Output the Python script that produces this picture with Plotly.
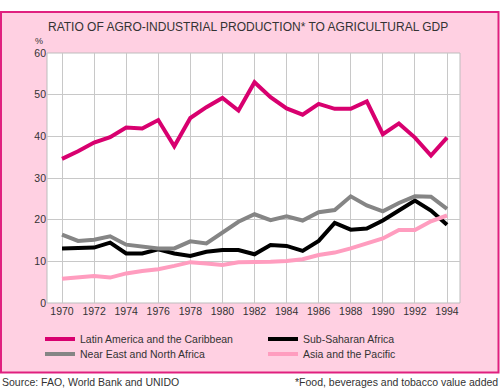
import plotly.graph_objects as go

years = list(range(1970, 1995))
latin = [34.6, 36.4, 38.5, 39.8, 42.1, 41.9, 43.9, 37.6, 44.4, 47.0, 49.2, 46.2, 53.0,
         49.4, 46.7, 45.2, 47.8, 46.6, 46.6, 48.4, 40.5, 43.1, 39.7, 35.4, 39.7]
subsahara = [13.1, 13.1, 13.3, 14.5, 11.9, 11.9, 12.9, 11.9, 11.3, 12.3, 12.7, 12.7, 11.7,
             13.9, 13.7, 12.5, 14.9, 19.2, 17.6, 17.9, 19.8, 22.2, 24.6, 22.2, 18.8]
neareast = [16.4, 14.9, 15.2, 16.0, 14.0, 13.5, 13.1, 13.1, 14.8, 14.3, 16.9, 19.5, 21.3,
            19.9, 20.8, 19.8, 21.8, 22.3, 25.6, 23.4, 22.0, 24.0, 25.6, 25.5, 22.6]
asia = [5.8, 6.2, 6.5, 6.1, 7.1, 7.7, 8.1, 8.9, 9.8, 9.5, 9.1, 9.8, 9.8,
        9.9, 10.1, 10.5, 11.5, 12.1, 13.1, 14.4, 15.5, 17.5, 17.5, 19.6, 21.0]

series = [
    ("Latin America and the Caribbean", latin, "#D8006F", "legend"),
    ("Sub-Saharan Africa", subsahara, "#000000", "legend"),
    ("Near East and North Africa", neareast, "#858585", "legend2"),
    ("Asia and the Pacific", asia, "#FF9DBF", "legend2"),
]

tick_years = list(range(1970, 1995, 2))
y_ticks = [0, 10, 20, 30, 40, 50, 60]

FONT = "Liberation Sans, Arial, sans-serif"
TXT = "#333333"

fig = go.Figure()
for name, vals, col, lg in series:
    fig.add_trace(go.Scatter(x=years, y=vals, name=name, mode="lines",
                             line=dict(color=col, width=4), legend=lg))

L, R, T, B = 47, 40, 53, 85
W, H = 500, 388
pw, ph = W - L - R, H - T - B

def px(x):
    return (x - L) / pw

def py(y):
    return (H - B - y) / ph

fig.add_shape(type="rect", xref="paper", yref="paper",
              x0=px(1), x1=px(498.5), y0=py(372.5), y1=py(12),
              fillcolor="#FFD0E2", line=dict(color="#E0207F", width=2), layer="below")
fig.add_shape(type="rect", xref="x domain", yref="y domain", x0=0, x1=1, y0=0, y1=1,
              fillcolor="white", line=dict(color="#BDBDBD", width=1), layer="below")

fig.add_annotation(text="RATIO OF AGRO-INDUSTRIAL PRODUCTION* TO AGRICULTURAL GDP",
                   xref="paper", yref="paper", x=px(247.5), y=py(27), showarrow=False,
                   xanchor="center", yanchor="middle", font=dict(family=FONT, size=12, color=TXT))
fig.add_annotation(text="%", xref="paper", yref="paper", x=px(39), y=py(41), showarrow=False,
                   xanchor="center", yanchor="middle", font=dict(family=FONT, size=9, color=TXT))
fig.add_annotation(text="Source: FAO, World Bank and UNIDO", xref="paper", yref="paper",
                   x=px(0), y=py(382), showarrow=False, xanchor="left", yanchor="middle",
                   font=dict(family=FONT, size=10.5, color=TXT))
fig.add_annotation(text="*Food, beverages and tobacco value added", xref="paper", yref="paper",
                   x=px(500), y=py(382), showarrow=False, xanchor="right", yanchor="middle",
                   font=dict(family=FONT, size=10.5, color=TXT))

leg_common = dict(orientation="h", xanchor="left", yanchor="middle",
                  bgcolor="rgba(0,0,0,0)", font=dict(family=FONT, size=10.5, color=TXT),
                  itemwidth=30, entrywidth=178, entrywidthmode="pixels",
                  traceorder="normal")

fig.update_layout(
    width=W, height=H,
    margin=dict(l=L, r=R, t=T, b=B, autoexpand=False),
    paper_bgcolor="white", plot_bgcolor="white",
    font=dict(family=FONT, size=10.5, color=TXT),
    showlegend=True,
    legend=dict(x=px(40), y=py(339), **leg_common),
    legend2=dict(x=px(40), y=py(354), **leg_common),
)
fig.update_xaxes(range=[1969.065, 1994.81], tickvals=tick_years,
                 ticktext=[str(t) for t in tick_years],
                 showgrid=True, gridcolor="#C8C8C8", gridwidth=1, zeroline=False,
                 showline=False, ticks="", tickfont=dict(size=10.5, color=TXT))
fig.update_yaxes(range=[0, 60], tickvals=y_ticks,
                 showgrid=True, gridcolor="#C8C8C8", gridwidth=1, zeroline=False,
                 showline=False, ticks="", tickfont=dict(size=10.5, color=TXT))

fig.write_html("out.html", config={"displayModeBar": False},
               post_script="document.body.style.margin='0';document.body.style.padding='0';")
